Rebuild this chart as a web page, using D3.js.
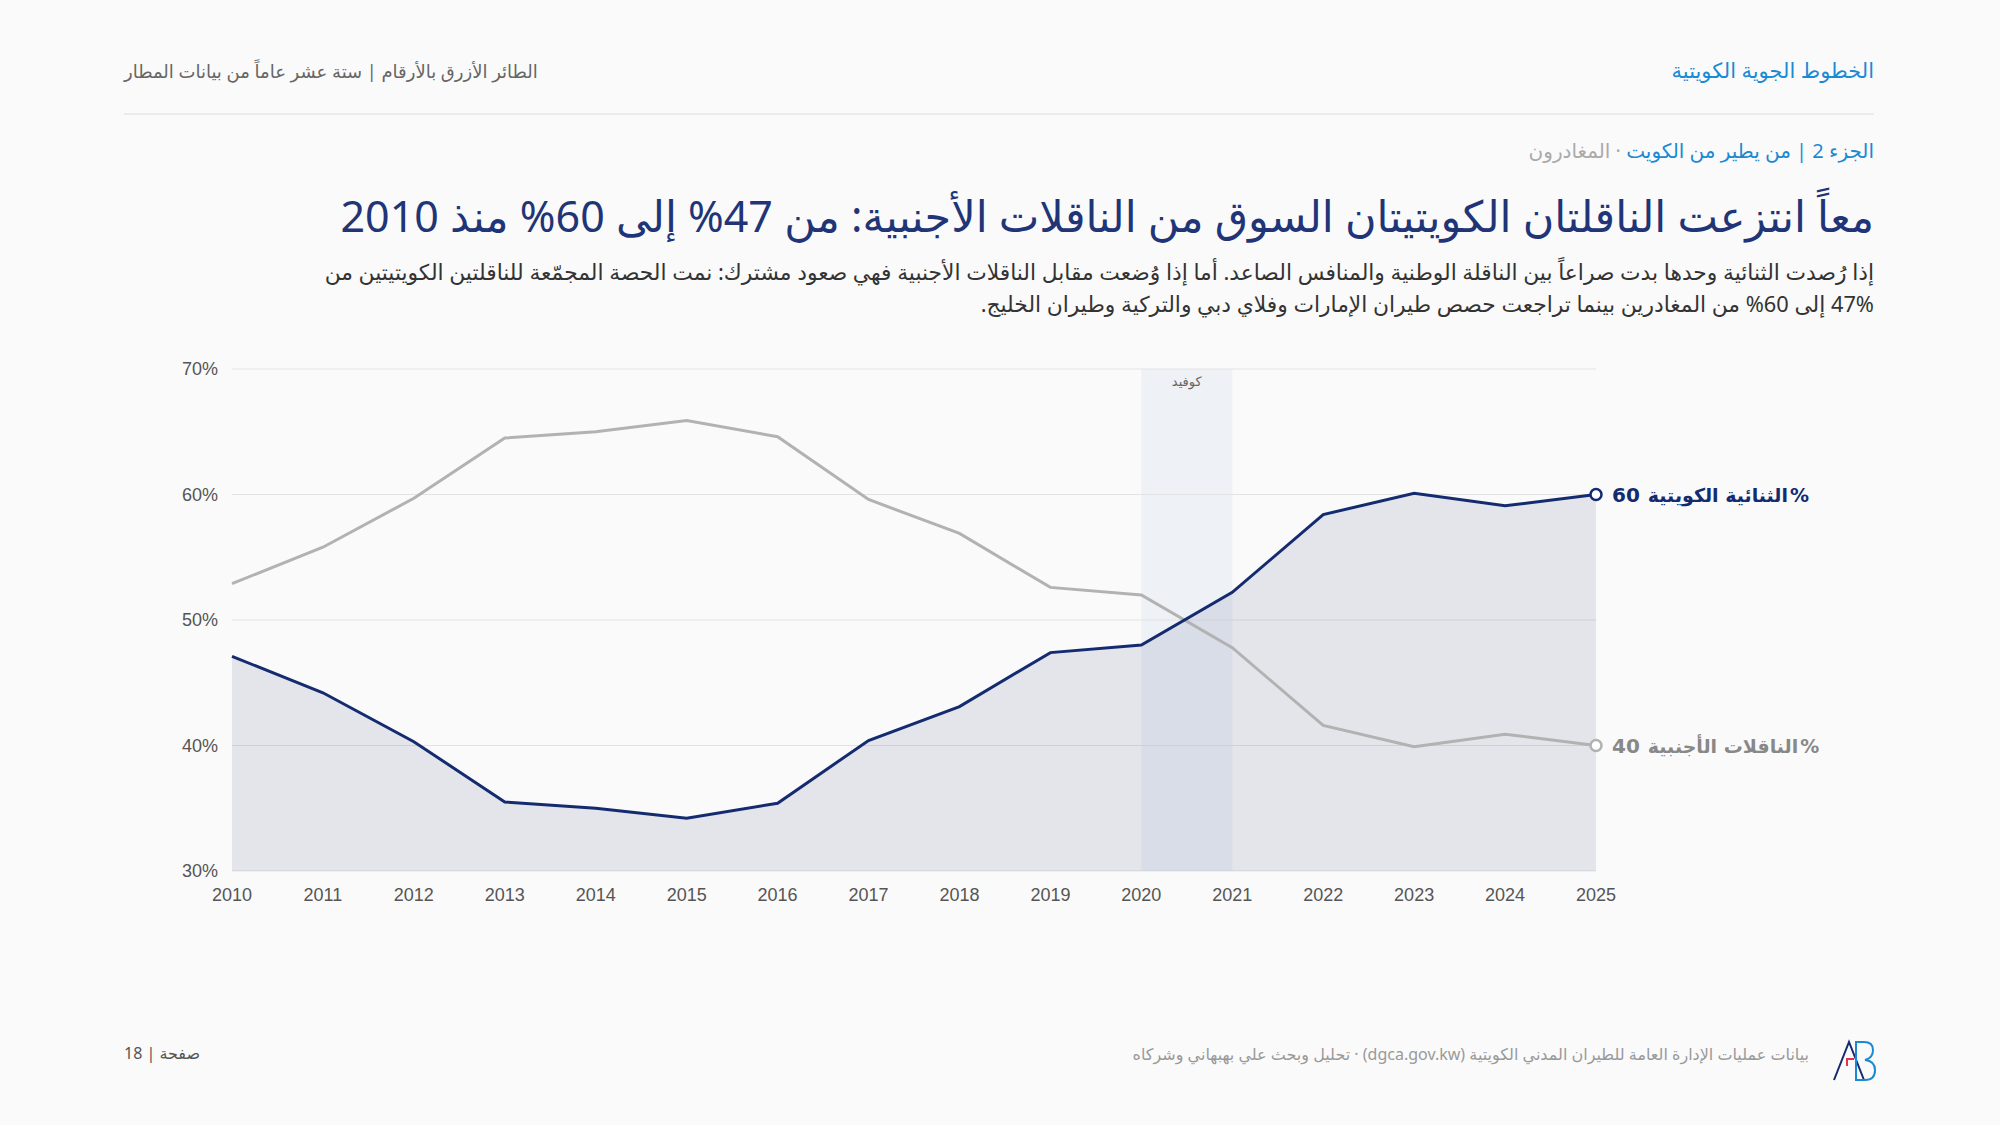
<!DOCTYPE html>
<html><head><meta charset="utf-8">
<script src="https://cdn.jsdelivr.net/npm/d3@7"></script>
<style>body{margin:0;background:#fafafa;}svg{display:block;font-family:"Noto Sans","DejaVu Sans",sans-serif;}</style>
</head><body>
<svg id="c" width="2000" height="1125"></svg>
<script>
const years = [2010,2011,2012,2013,2014,2015,2016,2017,2018,2019,2020,2021,2022,2023,2024,2025];
const kuwaiti = [47.1,44.2,40.3,35.5,35.0,34.2,35.4,40.4,43.1,47.4,48.0,52.2,58.4,60.1,59.1,60.0];
const foreign = [52.9,55.8,59.7,64.5,65.0,65.9,64.6,59.6,56.9,52.6,52.0,47.8,41.6,39.9,40.9,40.0];
const yTicks = [30,40,50,60,70];
const covid = [2020,2021];

const svg = d3.select("#c");
svg.append("rect").attr("width",2000).attr("height",1125).attr("fill","#fafafa");
const x = d3.scaleLinear().domain([2010,2025]).range([232,1596]);
const y = d3.scaleLinear().domain([30,70]).range([871,369]);

function rt(xp,yp,size,fill,txt){
  return svg.append("text").attr("x",xp).attr("y",yp).attr("direction","rtl").attr("text-anchor","start")
    .attr("font-size",size).attr("fill",fill).text(txt);
}
// header
rt(1874,78,21,"#1a8ad4","الخطوط الجوية الكويتية");
rt(124,78,18,"#666","الطائر الأزرق بالأرقام | ستة عشر عاماً من بيانات المطار").attr("text-anchor","end");
svg.append("line").attr("x1",124).attr("x2",1874).attr("y1",114).attr("y2",114).attr("stroke","#e6e6e6").attr("stroke-width",1.5);
const sec = rt(1874,158,20,"#1a8ad4","");
sec.append("tspan").attr("fill","#1a8ad4").text("الجزء 2 | من يطير من الكويت");
sec.append("tspan").attr("fill","#aaa").text(" · المغادرون");
rt(1874,232,43,"#1f3577","معاً انتزعت الناقلتان الكويتيتان السوق من الناقلات الأجنبية: من 47% إلى 60% منذ 2010");
rt(1874,280,21.8,"#333","إذا رُصدت الثنائية وحدها بدت صراعاً بين الناقلة الوطنية والمنافس الصاعد. أما إذا وُضعت مقابل الناقلات الأجنبية فهي صعود مشترك: نمت الحصة المجمّعة للناقلتين الكويتيتين من");
rt(1874,312,21.8,"#333","47% إلى 60% من المغادرين بينما تراجعت حصص طيران الإمارات وفلاي دبي والتركية وطيران الخليج.");

// covid band
svg.append("rect").attr("x",x(covid[0])).attr("width",x(covid[1])-x(covid[0])).attr("y",y(70)).attr("height",y(30)-y(70)).attr("fill","#eef1f6");
// grid
svg.selectAll(".g").data(yTicks).join("line").attr("x1",x(2010)).attr("x2",x(2025))
  .attr("y1",d=>y(d)).attr("y2",d=>y(d)).attr("stroke","#e3e3e3").attr("stroke-width",1);
// area
svg.append("path").datum(years.map((yr,i)=>[yr,kuwaiti[i]]))
  .attr("d",d3.area().x(d=>x(d[0])).y0(y(30)).y1(d=>y(d[1]))).attr("fill","rgba(26,45,110,0.1)");
rt((x(2020)+x(2021))/2,386,13,"#666","كوفيد").attr("text-anchor","middle").attr("letter-spacing",2).attr("font-family","DejaVu Sans");
// lines
const line = d3.line().x(d=>x(d[0])).y(d=>y(d[1]));
svg.append("path").datum(years.map((yr,i)=>[yr,foreign[i]])).attr("d",line).attr("fill","none").attr("stroke","#b2b2b2").attr("stroke-width",3);
svg.append("path").datum(years.map((yr,i)=>[yr,kuwaiti[i]])).attr("d",line).attr("fill","none").attr("stroke","#142b6f").attr("stroke-width",3);
svg.append("circle").attr("cx",x(2025)).attr("cy",y(foreign[15])).attr("r",5.5).attr("fill","#fff").attr("stroke","#b2b2b2").attr("stroke-width",2.5);
svg.append("circle").attr("cx",x(2025)).attr("cy",y(kuwaiti[15])).attr("r",5.5).attr("fill","#fff").attr("stroke","#142b6f").attr("stroke-width",2.5);
// end labels
[[kuwaiti[15],"الثنائية الكويتية","#142b6f"],[foreign[15],"الناقلات الأجنبية","#888"]].forEach(([v,l,c])=>{
  const t=svg.append("text").attr("x",1612).attr("y",y(v)+7).attr("font-size",20).attr("font-weight","bold").attr("fill",c).attr("font-family","DejaVu Sans");
  t.text(d3.format(".0f")(v));
  const w=t.node().getComputedTextLength();
  const a=svg.append("text").attr("x",1612+w+8).attr("y",y(v)+7).attr("font-size",19).attr("font-weight","bold").attr("letter-spacing",1.5).attr("fill",c).attr("font-family","DejaVu Sans").text(l);
  const w2=a.node().getComputedTextLength();
  svg.append("text").attr("x",1612+w+8+w2+2).attr("y",y(v)+7).attr("font-size",19).attr("font-weight","bold").attr("fill",c).attr("font-family","DejaVu Sans").text("%");
});
// axes labels
svg.selectAll(".yt").data(yTicks).join("text").attr("x",218).attr("y",d=>y(d)+6).attr("text-anchor","end")
  .attr("font-size",18).attr("fill","#555").attr("font-family","Liberation Sans, Arial").text(d=>d+"%");
svg.selectAll(".xt").data(years).join("text").attr("x",d=>x(d)).attr("y",901).attr("text-anchor","middle")
  .attr("font-size",18).attr("fill","#555").attr("font-family","Liberation Sans, Arial").text(d=>d);

// footer
rt(1809,1060,16,"#999","بيانات عمليات الإدارة العامة للطيران المدني الكويتية (dgca.gov.kw) · تحليل وبحث علي بهبهاني وشركاه");
svg.append("text").attr("x",124).attr("y",1059).attr("font-size",16).attr("fill","#555").text("18 | صفحة");
// logo
const lg = svg.append("g").attr("fill","none").attr("stroke-width",2).attr("transform","translate(0,2) ");
lg.append("path").attr("d","M1834,1078 L1849,1040 L1864,1078").attr("stroke","#142b6f");
lg.append("path").attr("d","M1856,1040 L1856,1078 L1865,1078 Q1875,1078 1875,1068 Q1875,1059 1865,1058 Q1873,1056 1873,1048 Q1873,1040 1864,1040 Z").attr("stroke","#1a8ad4");
lg.append("path").attr("d","M1847,1064 L1847,1057 L1854,1057").attr("stroke","#e2334a");
</script>
</body></html>
